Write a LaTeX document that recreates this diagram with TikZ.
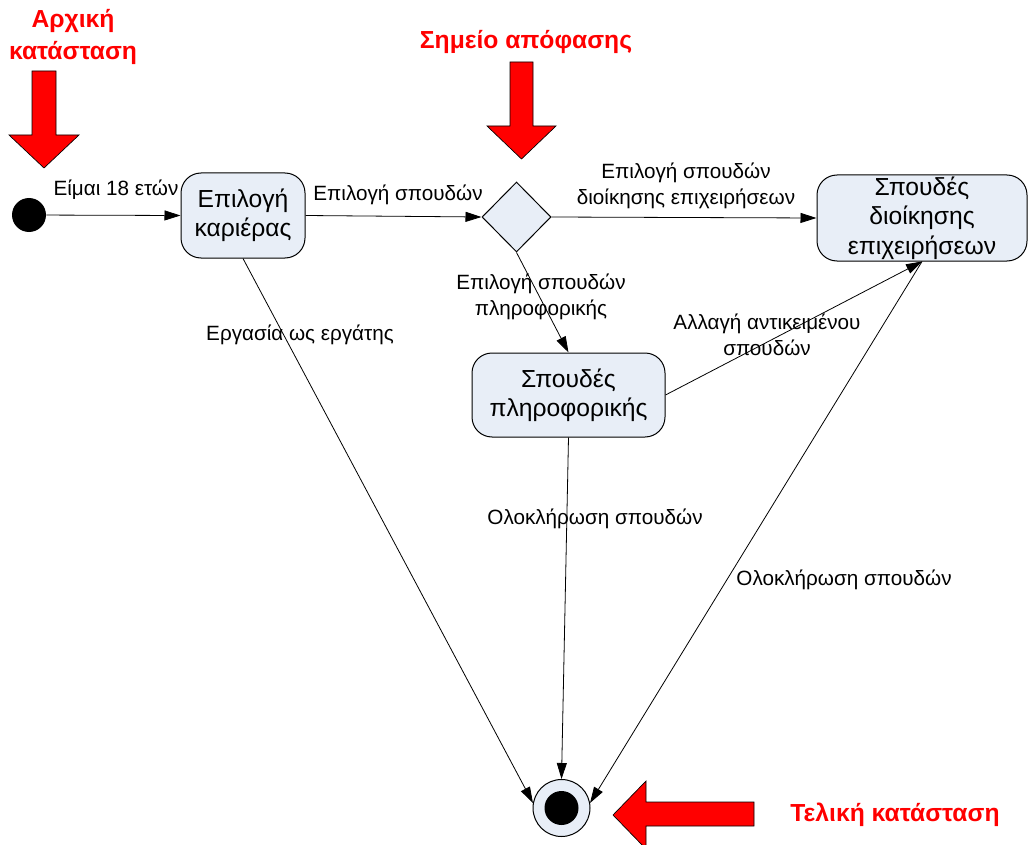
\documentclass[tikz,border=0pt]{standalone}
\usepackage{fontspec}
\setmainfont{Liberation Sans}
\usetikzlibrary{arrows.meta,shapes.geometric}
\definecolor{boxfill}{RGB}{232,238,247}
\begin{document}
\begin{tikzpicture}[x=0.75pt,y=-0.75pt,
  state/.style={draw=black, line width=0.75pt, fill=boxfill, rounded corners=15pt, align=center, font=\fontsize{18.5}{22}\selectfont, inner sep=0pt},
  lbl/.style={align=center, font=\fontsize{15.5}{19.5}\selectfont, inner sep=0pt},
  redtxt/.style={text=red, align=center, font=\bfseries\fontsize{18.5}{23.5}\selectfont, inner sep=0pt},
  bigarrow/.style={fill=red, draw=black, line width=0.5pt},
  conn/.style={line width=0.6pt, -{Triangle[length=12pt,width=7.5pt]}}]
\useasboundingbox (0,0) rectangle (1028,845);
% states
\node[state, minimum width=93pt, minimum height=63.75pt] (career) at (243,215.5) {Επιλογή\\καριέρας};
\node[state, minimum width=157.5pt, minimum height=64.5pt] (bus) at (922,218) {Σπουδές\\διοίκησης\\επιχειρήσεων};
\node[state, minimum width=144.75pt, minimum height=63pt] (info) at (568.5,395) {Σπουδές\\πληροφορικής};
\node[draw=black, line width=0.75pt, fill=boxfill, shape=diamond, minimum width=51.75pt, minimum height=52.5pt, inner sep=0pt] (dec) at (516.5,217) {};
\node[circle, fill=black, minimum size=25.5pt, inner sep=0pt] (init) at (29,215) {};
\node[circle, draw=black, line width=0.75pt, fill=boxfill, minimum size=42.75pt, inner sep=0pt] (final) at (561.5,808) {};
\node[circle, fill=black, minimum size=25.5pt, inner sep=0pt] (finalin) at (final) {};
% connectors
\draw[conn] (init) -- (career.west);
\draw[conn] (career.east) -- (dec.west);
\draw[conn] (dec.east) -- (bus.west);
\draw[conn] (dec.south) -- (info.north);
\draw[conn] (info.east) -- (bus.south);
\draw[conn] (career.south) -- (final.170);
\draw[conn] (info.south) -- (final.north);
\draw[conn] (bus.south) -- (final.10);
% labels
\node[lbl] (l1) at (116,190) {Είμαι 18 ετών};
\node[lbl] (l2) at (398,195) {Επιλογή σπουδών};
\node[lbl] (l3) at (686,186) {Επιλογή σπουδών\\διοίκησης επιχειρήσεων};
\node[lbl] (l4) at (541,297) {Επιλογή σπουδών\\πληροφορικής};
\node[lbl] (l5) at (767,335) {Αλλαγή αντικειμένου\\σπουδών};
\node[lbl] (l6) at (300,335) {Εργασία ως εργάτης};
\node[lbl] (l7) at (595,519) {Ολοκλήρωση σπουδών};
\node[lbl] (l8) at (844,580) {Ολοκλήρωση σπουδών};
% red annotations
\path[bigarrow] (32,71) -- (56,71) -- (56,135) -- (79,135) -- (44,168) -- (9,135) -- (32,135) -- cycle;
\path[bigarrow] (510,62) -- (533,62) -- (533,126) -- (556,126) -- (521.5,159) -- (487,126) -- (510,126) -- cycle;
\path[bigarrow] (754,802) -- (754,826) -- (646,826) -- (646,849) -- (613,815) -- (646,781) -- (646,802) -- cycle;
\node[redtxt] (t1) at (73,37) {Αρχική\\κατάσταση};
\node[redtxt] (t2) at (526,42) {Σημείο απόφασης};
\node[redtxt] (t3) at (895,815) {Τελική κατάσταση};
\end{tikzpicture}
\end{document}
